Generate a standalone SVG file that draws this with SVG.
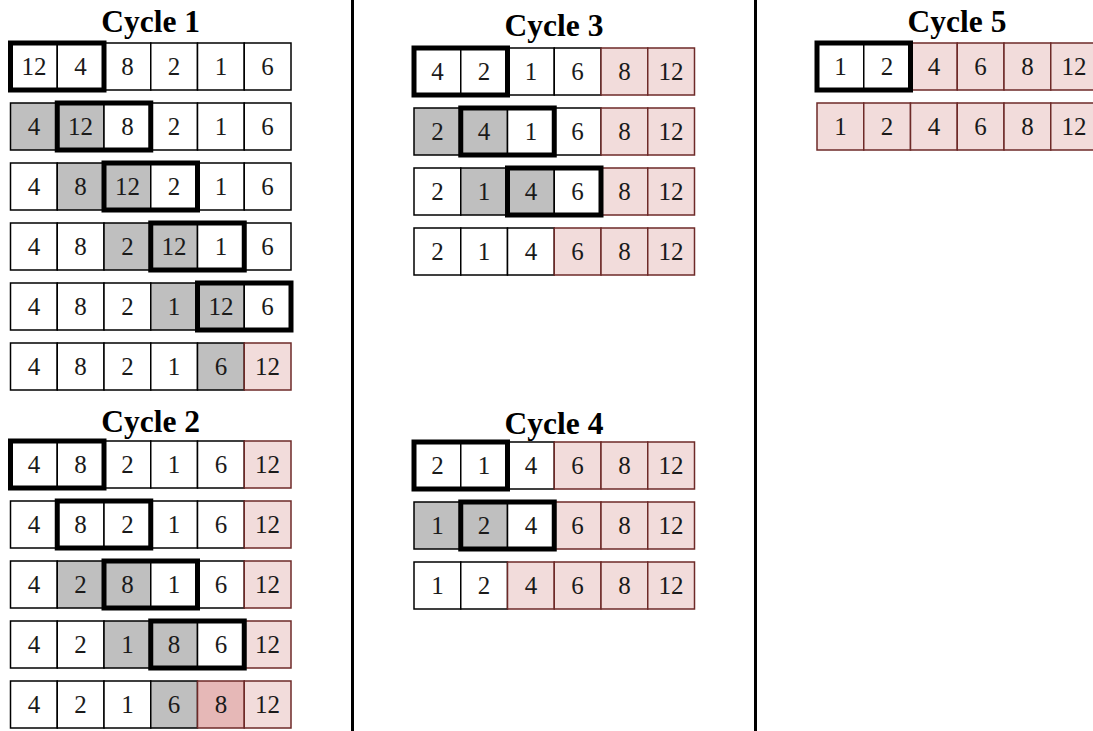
<svg xmlns="http://www.w3.org/2000/svg" width="1093" height="731" viewBox="0 0 1093 731">
<style>
  .c{fill:#ffffff;stroke:#000000;stroke-width:1.5}
  .g{fill:#bfbfbf;stroke:#000000;stroke-width:1.5}
  .p{fill:#f2dcdb;stroke:#6e2a28;stroke-width:1.5}
  .d{fill:#e6b8b7;stroke:#6e2a28;stroke-width:1.5}
  .hl{fill:none;stroke:#000000;stroke-width:5}
  .n{font-family:"Liberation Serif","Times New Roman",serif;font-size:25px;fill:#1a1a1a;text-anchor:middle}
  .t{font-family:"Liberation Serif","Times New Roman",serif;font-size:31.5px;font-weight:bold;fill:#000000;text-anchor:middle}
  .div{stroke:#000000;stroke-width:3}
</style>
<rect width="1093" height="731" fill="#ffffff"/>
<g id="dividers">
  <line class="div" x1="352.5" y1="0" x2="352.5" y2="731"/>
  <line class="div" x1="755.5" y1="0" x2="755.5" y2="731"/>
</g>
<g id="titles">
  <text class="t" x="150.7" y="32">Cycle 1</text>
  <text class="t" x="150.7" y="432">Cycle 2</text>
  <text class="t" x="554" y="36">Cycle 3</text>
  <text class="t" x="554" y="434">Cycle 4</text>
  <text class="t" x="957" y="32">Cycle 5</text>
</g>
<!-- Cycle 1 -->
<g id="c1r1">
  <rect class="c" x="10.5" y="43" width="46.75" height="47"/><text class="n" x="33.9" y="75">12</text>
  <rect class="c" x="57.25" y="43" width="46.75" height="47"/><text class="n" x="80.6" y="75">4</text>
  <rect class="c" x="104" y="43" width="46.75" height="47"/><text class="n" x="127.4" y="75">8</text>
  <rect class="c" x="150.75" y="43" width="46.75" height="47"/><text class="n" x="174.1" y="75">2</text>
  <rect class="c" x="197.5" y="43" width="46.75" height="47"/><text class="n" x="220.9" y="75">1</text>
  <rect class="c" x="244.25" y="43" width="46.75" height="47"/><text class="n" x="267.6" y="75">6</text>
  <rect class="hl" x="10.5" y="43" width="93.5" height="47"/>
</g>
<g id="c1r2">
  <rect class="g" x="10.5" y="103" width="46.75" height="47"/><text class="n" x="33.9" y="135">4</text>
  <rect class="g" x="57.25" y="103" width="46.75" height="47"/><text class="n" x="80.6" y="135">12</text>
  <rect class="c" x="104" y="103" width="46.75" height="47"/><text class="n" x="127.4" y="135">8</text>
  <rect class="c" x="150.75" y="103" width="46.75" height="47"/><text class="n" x="174.1" y="135">2</text>
  <rect class="c" x="197.5" y="103" width="46.75" height="47"/><text class="n" x="220.9" y="135">1</text>
  <rect class="c" x="244.25" y="103" width="46.75" height="47"/><text class="n" x="267.6" y="135">6</text>
  <rect class="hl" x="57.25" y="103" width="93.5" height="47"/>
</g>
<g id="c1r3">
  <rect class="c" x="10.5" y="163" width="46.75" height="47"/><text class="n" x="33.9" y="195">4</text>
  <rect class="g" x="57.25" y="163" width="46.75" height="47"/><text class="n" x="80.6" y="195">8</text>
  <rect class="g" x="104" y="163" width="46.75" height="47"/><text class="n" x="127.4" y="195">12</text>
  <rect class="c" x="150.75" y="163" width="46.75" height="47"/><text class="n" x="174.1" y="195">2</text>
  <rect class="c" x="197.5" y="163" width="46.75" height="47"/><text class="n" x="220.9" y="195">1</text>
  <rect class="c" x="244.25" y="163" width="46.75" height="47"/><text class="n" x="267.6" y="195">6</text>
  <rect class="hl" x="104" y="163" width="93.5" height="47"/>
</g>
<g id="c1r4">
  <rect class="c" x="10.5" y="223" width="46.75" height="47"/><text class="n" x="33.9" y="255">4</text>
  <rect class="c" x="57.25" y="223" width="46.75" height="47"/><text class="n" x="80.6" y="255">8</text>
  <rect class="g" x="104" y="223" width="46.75" height="47"/><text class="n" x="127.4" y="255">2</text>
  <rect class="g" x="150.75" y="223" width="46.75" height="47"/><text class="n" x="174.1" y="255">12</text>
  <rect class="c" x="197.5" y="223" width="46.75" height="47"/><text class="n" x="220.9" y="255">1</text>
  <rect class="c" x="244.25" y="223" width="46.75" height="47"/><text class="n" x="267.6" y="255">6</text>
  <rect class="hl" x="150.75" y="223" width="93.5" height="47"/>
</g>
<g id="c1r5">
  <rect class="c" x="10.5" y="283" width="46.75" height="47"/><text class="n" x="33.9" y="315">4</text>
  <rect class="c" x="57.25" y="283" width="46.75" height="47"/><text class="n" x="80.6" y="315">8</text>
  <rect class="c" x="104" y="283" width="46.75" height="47"/><text class="n" x="127.4" y="315">2</text>
  <rect class="g" x="150.75" y="283" width="46.75" height="47"/><text class="n" x="174.1" y="315">1</text>
  <rect class="g" x="197.5" y="283" width="46.75" height="47"/><text class="n" x="220.9" y="315">12</text>
  <rect class="c" x="244.25" y="283" width="46.75" height="47"/><text class="n" x="267.6" y="315">6</text>
  <rect class="hl" x="197.5" y="283" width="93.5" height="47"/>
</g>
<g id="c1r6">
  <rect class="c" x="10.5" y="343" width="46.75" height="47"/><text class="n" x="33.9" y="375">4</text>
  <rect class="c" x="57.25" y="343" width="46.75" height="47"/><text class="n" x="80.6" y="375">8</text>
  <rect class="c" x="104" y="343" width="46.75" height="47"/><text class="n" x="127.4" y="375">2</text>
  <rect class="c" x="150.75" y="343" width="46.75" height="47"/><text class="n" x="174.1" y="375">1</text>
  <rect class="g" x="197.5" y="343" width="46.75" height="47"/><text class="n" x="220.9" y="375">6</text>
  <rect class="p" x="244.25" y="343" width="46.75" height="47"/><text class="n" x="267.6" y="375">12</text>
</g>
<!-- Cycle 2 -->
<g id="c2r1">
  <rect class="c" x="10.5" y="441" width="46.75" height="47"/><text class="n" x="33.9" y="473">4</text>
  <rect class="c" x="57.25" y="441" width="46.75" height="47"/><text class="n" x="80.6" y="473">8</text>
  <rect class="c" x="104" y="441" width="46.75" height="47"/><text class="n" x="127.4" y="473">2</text>
  <rect class="c" x="150.75" y="441" width="46.75" height="47"/><text class="n" x="174.1" y="473">1</text>
  <rect class="c" x="197.5" y="441" width="46.75" height="47"/><text class="n" x="220.9" y="473">6</text>
  <rect class="p" x="244.25" y="441" width="46.75" height="47"/><text class="n" x="267.6" y="473">12</text>
  <rect class="hl" x="10.5" y="441" width="93.5" height="47"/>
</g>
<g id="c2r2">
  <rect class="c" x="10.5" y="501" width="46.75" height="47"/><text class="n" x="33.9" y="533">4</text>
  <rect class="c" x="57.25" y="501" width="46.75" height="47"/><text class="n" x="80.6" y="533">8</text>
  <rect class="c" x="104" y="501" width="46.75" height="47"/><text class="n" x="127.4" y="533">2</text>
  <rect class="c" x="150.75" y="501" width="46.75" height="47"/><text class="n" x="174.1" y="533">1</text>
  <rect class="c" x="197.5" y="501" width="46.75" height="47"/><text class="n" x="220.9" y="533">6</text>
  <rect class="p" x="244.25" y="501" width="46.75" height="47"/><text class="n" x="267.6" y="533">12</text>
  <rect class="hl" x="57.25" y="501" width="93.5" height="47"/>
</g>
<g id="c2r3">
  <rect class="c" x="10.5" y="561" width="46.75" height="47"/><text class="n" x="33.9" y="593">4</text>
  <rect class="g" x="57.25" y="561" width="46.75" height="47"/><text class="n" x="80.6" y="593">2</text>
  <rect class="g" x="104" y="561" width="46.75" height="47"/><text class="n" x="127.4" y="593">8</text>
  <rect class="c" x="150.75" y="561" width="46.75" height="47"/><text class="n" x="174.1" y="593">1</text>
  <rect class="c" x="197.5" y="561" width="46.75" height="47"/><text class="n" x="220.9" y="593">6</text>
  <rect class="p" x="244.25" y="561" width="46.75" height="47"/><text class="n" x="267.6" y="593">12</text>
  <rect class="hl" x="104" y="561" width="93.5" height="47"/>
</g>
<g id="c2r4">
  <rect class="c" x="10.5" y="621" width="46.75" height="47"/><text class="n" x="33.9" y="653">4</text>
  <rect class="c" x="57.25" y="621" width="46.75" height="47"/><text class="n" x="80.6" y="653">2</text>
  <rect class="g" x="104" y="621" width="46.75" height="47"/><text class="n" x="127.4" y="653">1</text>
  <rect class="g" x="150.75" y="621" width="46.75" height="47"/><text class="n" x="174.1" y="653">8</text>
  <rect class="c" x="197.5" y="621" width="46.75" height="47"/><text class="n" x="220.9" y="653">6</text>
  <rect class="p" x="244.25" y="621" width="46.75" height="47"/><text class="n" x="267.6" y="653">12</text>
  <rect class="hl" x="150.75" y="621" width="93.5" height="47"/>
</g>
<g id="c2r5">
  <rect class="c" x="10.5" y="681" width="46.75" height="47"/><text class="n" x="33.9" y="713">4</text>
  <rect class="c" x="57.25" y="681" width="46.75" height="47"/><text class="n" x="80.6" y="713">2</text>
  <rect class="c" x="104" y="681" width="46.75" height="47"/><text class="n" x="127.4" y="713">1</text>
  <rect class="g" x="150.75" y="681" width="46.75" height="47"/><text class="n" x="174.1" y="713">6</text>
  <rect class="d" x="197.5" y="681" width="46.75" height="47"/><text class="n" x="220.9" y="713">8</text>
  <rect class="p" x="244.25" y="681" width="46.75" height="47"/><text class="n" x="267.6" y="713">12</text>
</g>
<!-- Cycle 3 -->
<g id="c3r1">
  <rect class="c" x="414" y="48" width="46.75" height="47"/><text class="n" x="437.4" y="80">4</text>
  <rect class="c" x="460.75" y="48" width="46.75" height="47"/><text class="n" x="484.1" y="80">2</text>
  <rect class="c" x="507.5" y="48" width="46.75" height="47"/><text class="n" x="530.9" y="80">1</text>
  <rect class="c" x="554.25" y="48" width="46.75" height="47"/><text class="n" x="577.6" y="80">6</text>
  <rect class="p" x="601" y="48" width="46.75" height="47"/><text class="n" x="624.4" y="80">8</text>
  <rect class="p" x="647.75" y="48" width="46.75" height="47"/><text class="n" x="671.1" y="80">12</text>
  <rect class="hl" x="414" y="48" width="93.5" height="47"/>
</g>
<g id="c3r2">
  <rect class="g" x="414" y="108" width="46.75" height="47"/><text class="n" x="437.4" y="140">2</text>
  <rect class="g" x="460.75" y="108" width="46.75" height="47"/><text class="n" x="484.1" y="140">4</text>
  <rect class="c" x="507.5" y="108" width="46.75" height="47"/><text class="n" x="530.9" y="140">1</text>
  <rect class="c" x="554.25" y="108" width="46.75" height="47"/><text class="n" x="577.6" y="140">6</text>
  <rect class="p" x="601" y="108" width="46.75" height="47"/><text class="n" x="624.4" y="140">8</text>
  <rect class="p" x="647.75" y="108" width="46.75" height="47"/><text class="n" x="671.1" y="140">12</text>
  <rect class="hl" x="460.75" y="108" width="93.5" height="47"/>
</g>
<g id="c3r3">
  <rect class="c" x="414" y="168" width="46.75" height="47"/><text class="n" x="437.4" y="200">2</text>
  <rect class="g" x="460.75" y="168" width="46.75" height="47"/><text class="n" x="484.1" y="200">1</text>
  <rect class="g" x="507.5" y="168" width="46.75" height="47"/><text class="n" x="530.9" y="200">4</text>
  <rect class="c" x="554.25" y="168" width="46.75" height="47"/><text class="n" x="577.6" y="200">6</text>
  <rect class="p" x="601" y="168" width="46.75" height="47"/><text class="n" x="624.4" y="200">8</text>
  <rect class="p" x="647.75" y="168" width="46.75" height="47"/><text class="n" x="671.1" y="200">12</text>
  <rect class="hl" x="507.5" y="168" width="93.5" height="47"/>
</g>
<g id="c3r4">
  <rect class="c" x="414" y="228" width="46.75" height="47"/><text class="n" x="437.4" y="260">2</text>
  <rect class="c" x="460.75" y="228" width="46.75" height="47"/><text class="n" x="484.1" y="260">1</text>
  <rect class="c" x="507.5" y="228" width="46.75" height="47"/><text class="n" x="530.9" y="260">4</text>
  <rect class="p" x="554.25" y="228" width="46.75" height="47"/><text class="n" x="577.6" y="260">6</text>
  <rect class="p" x="601" y="228" width="46.75" height="47"/><text class="n" x="624.4" y="260">8</text>
  <rect class="p" x="647.75" y="228" width="46.75" height="47"/><text class="n" x="671.1" y="260">12</text>
</g>
<!-- Cycle 4 -->
<g id="c4r1">
  <rect class="c" x="414" y="442" width="46.75" height="47"/><text class="n" x="437.4" y="474">2</text>
  <rect class="c" x="460.75" y="442" width="46.75" height="47"/><text class="n" x="484.1" y="474">1</text>
  <rect class="c" x="507.5" y="442" width="46.75" height="47"/><text class="n" x="530.9" y="474">4</text>
  <rect class="p" x="554.25" y="442" width="46.75" height="47"/><text class="n" x="577.6" y="474">6</text>
  <rect class="p" x="601" y="442" width="46.75" height="47"/><text class="n" x="624.4" y="474">8</text>
  <rect class="p" x="647.75" y="442" width="46.75" height="47"/><text class="n" x="671.1" y="474">12</text>
  <rect class="hl" x="414" y="442" width="93.5" height="47"/>
</g>
<g id="c4r2">
  <rect class="g" x="414" y="502" width="46.75" height="47"/><text class="n" x="437.4" y="534">1</text>
  <rect class="g" x="460.75" y="502" width="46.75" height="47"/><text class="n" x="484.1" y="534">2</text>
  <rect class="c" x="507.5" y="502" width="46.75" height="47"/><text class="n" x="530.9" y="534">4</text>
  <rect class="p" x="554.25" y="502" width="46.75" height="47"/><text class="n" x="577.6" y="534">6</text>
  <rect class="p" x="601" y="502" width="46.75" height="47"/><text class="n" x="624.4" y="534">8</text>
  <rect class="p" x="647.75" y="502" width="46.75" height="47"/><text class="n" x="671.1" y="534">12</text>
  <rect class="hl" x="460.75" y="502" width="93.5" height="47"/>
</g>
<g id="c4r3">
  <rect class="c" x="414" y="562" width="46.75" height="47"/><text class="n" x="437.4" y="594">1</text>
  <rect class="c" x="460.75" y="562" width="46.75" height="47"/><text class="n" x="484.1" y="594">2</text>
  <rect class="p" x="507.5" y="562" width="46.75" height="47"/><text class="n" x="530.9" y="594">4</text>
  <rect class="p" x="554.25" y="562" width="46.75" height="47"/><text class="n" x="577.6" y="594">6</text>
  <rect class="p" x="601" y="562" width="46.75" height="47"/><text class="n" x="624.4" y="594">8</text>
  <rect class="p" x="647.75" y="562" width="46.75" height="47"/><text class="n" x="671.1" y="594">12</text>
</g>
<!-- Cycle 5 -->
<g id="c5r1">
  <rect class="c" x="817" y="43" width="46.75" height="47"/><text class="n" x="840.4" y="75">1</text>
  <rect class="c" x="863.75" y="43" width="46.75" height="47"/><text class="n" x="887.1" y="75">2</text>
  <rect class="p" x="910.5" y="43" width="46.75" height="47"/><text class="n" x="933.9" y="75">4</text>
  <rect class="p" x="957.25" y="43" width="46.75" height="47"/><text class="n" x="980.6" y="75">6</text>
  <rect class="p" x="1004" y="43" width="46.75" height="47"/><text class="n" x="1027.4" y="75">8</text>
  <rect class="p" x="1050.75" y="43" width="46.75" height="47"/><text class="n" x="1074.1" y="75">12</text>
  <rect class="hl" x="817" y="43" width="93.5" height="47"/>
</g>
<g id="c5r2">
  <rect class="p" x="817" y="103" width="46.75" height="47"/><text class="n" x="840.4" y="135">1</text>
  <rect class="p" x="863.75" y="103" width="46.75" height="47"/><text class="n" x="887.1" y="135">2</text>
  <rect class="p" x="910.5" y="103" width="46.75" height="47"/><text class="n" x="933.9" y="135">4</text>
  <rect class="p" x="957.25" y="103" width="46.75" height="47"/><text class="n" x="980.6" y="135">6</text>
  <rect class="p" x="1004" y="103" width="46.75" height="47"/><text class="n" x="1027.4" y="135">8</text>
  <rect class="p" x="1050.75" y="103" width="46.75" height="47"/><text class="n" x="1074.1" y="135">12</text>
</g>
</svg>
